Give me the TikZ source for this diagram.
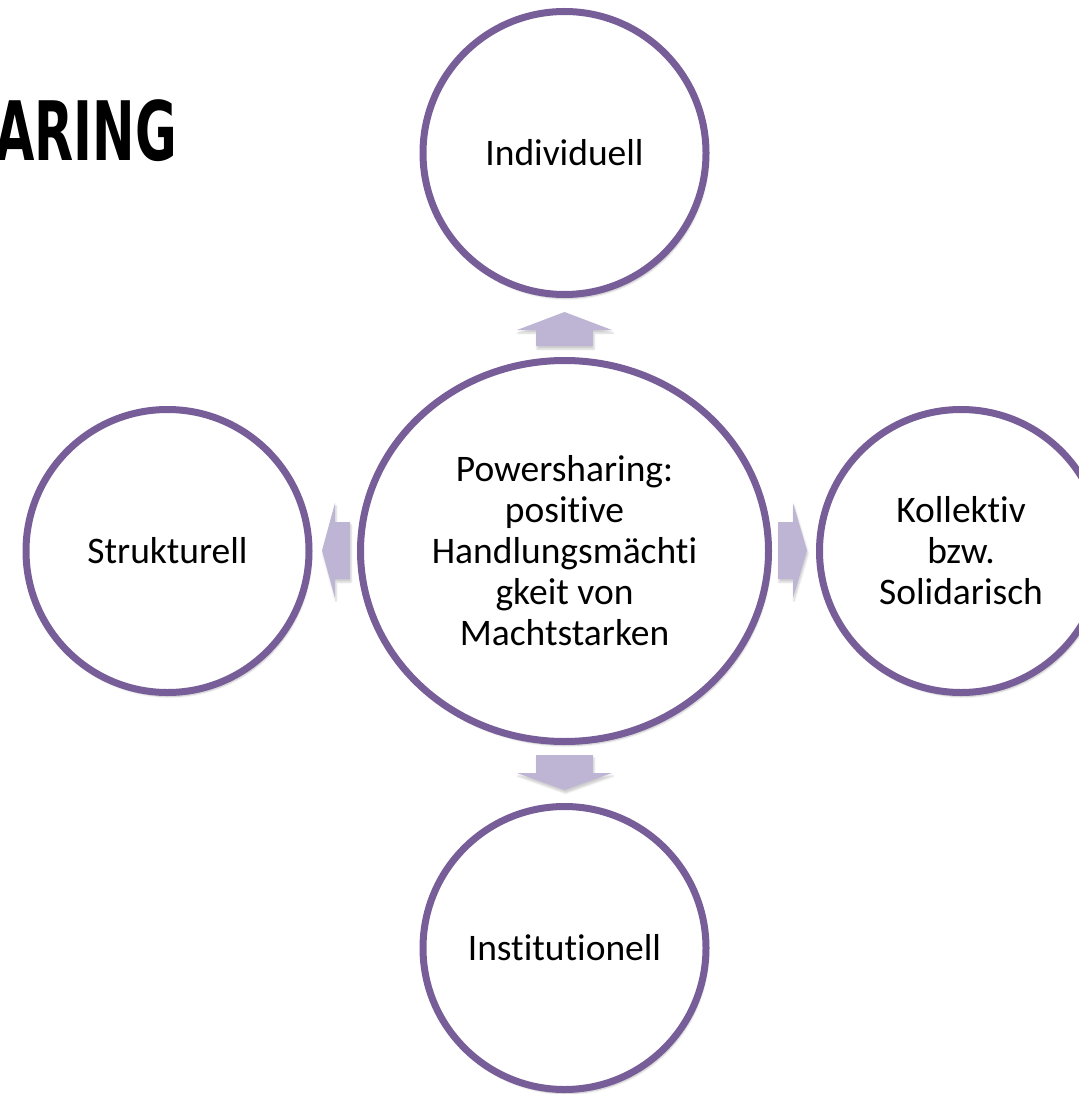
\documentclass[tikz,border=0pt]{standalone}
\usepackage{fontspec}
\setmainfont{Carlito}[Ligatures=NoCommon]
\newfontfamily\headfont{DejaVu Sans}
\usepackage{tikz}
\usepackage{xcolor}
\usetikzlibrary{positioning, shapes.geometric, shadows.blur}

\definecolor{ringpurple}{RGB}{120,94,152}
\definecolor{arrowlilac}{RGB}{190,181,212}

\tikzset{
  ring/.style={circle, draw=ringpurple, line width=7pt, fill=white,
    minimum size=283pt, inner sep=0pt, align=center,
    font=\fontsize{37.5}{41}\selectfont,
    blur shadow={shadow xshift=2pt, shadow yshift=-4pt, shadow blur steps=6, shadow opacity=25}},
  blockarrow/.style={fill=arrowlilac,
    blur shadow={shadow xshift=1pt, shadow yshift=-3pt, shadow blur steps=4, shadow opacity=20}}
}

\begin{document}
\begin{tikzpicture}[x=1pt, y=-1pt]
            \useasboundingbox (0, 0) rectangle (1078, 1094);
            \node [anchor=south east, inner sep=0pt, xscale=0.62,
                   font=\headfont\bfseries\fontsize{82}{82}\selectfont] (title) at (177, 162) {ARING};
            % block arrows
            \fill [blockarrow] (536, 346) -- (536, 330) -- (517, 330) -- (564.5, 312) -- (612, 330) -- (593, 330) -- (593, 346) -- cycle;
            \fill [blockarrow] (536, 755) -- (536, 773) -- (517, 773) -- (564.5, 790) -- (612, 773) -- (593, 773) -- (593, 755) -- cycle;
            \fill [blockarrow] (350, 522) -- (335, 522) -- (335, 503) -- (322, 550.5) -- (335, 598) -- (335, 579) -- (350, 579) -- cycle;
            \fill [blockarrow] (778, 522) -- (793, 522) -- (793, 503) -- (807, 550.5) -- (793, 598) -- (793, 579) -- (778, 579) -- cycle;
            % circles
            \node [ring, ellipse, minimum width=408pt, minimum height=381pt] (core) at (564.5, 551)
                  {Powersharing:\\positive\\Handlungsmächti\\gkeit von\\Machtstarken};
            \node [ring] (ind) at (564.5, 153) {Individuell};
            \node [ring] (inst) at (564.5, 948) {Institutionell};
            \node [ring] (struk) at (167.5, 551) {Strukturell};
            \node [ring] (koll) at (961, 551) {Kollektiv\\bzw.\\Solidarisch};
        \end{tikzpicture}
\end{document}
